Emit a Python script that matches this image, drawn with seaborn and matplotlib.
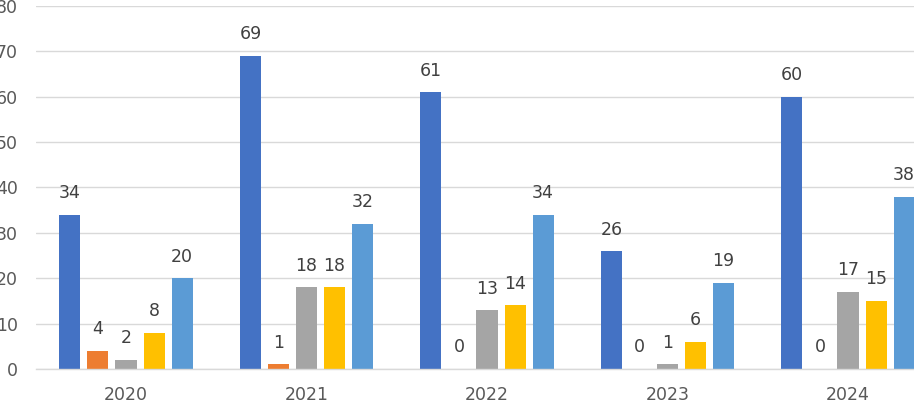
import pandas as pd
import matplotlib
matplotlib.use("Agg")
import matplotlib.pyplot as plt
import seaborn as sns

years = ["2020", "2021", "2022", "2023", "2024"]
series = ["S1", "S2", "S3", "S4", "S5"]
s1 = [34, 69, 61, 26, 60]
s2 = [4, 1, 0, 0, 0]
s3 = [2, 18, 13, 1, 17]
s4 = [8, 18, 14, 6, 15]
s5 = [20, 32, 34, 19, 38]
colors = ["#4472C4", "#ED7D31", "#A5A5A5", "#FFC000", "#5B9BD5"]

rows = []
for name, vals in zip(series, [s1, s2, s3, s4, s5]):
    for y, v in zip(years, vals):
        rows.append({"year": y, "series": name, "value": v})
df = pd.DataFrame(rows)

sns.set_theme(style="white")
plt.rcParams["font.family"] = ["Liberation Sans Narrow", "DejaVu Sans"]

W, H = 914, 400
fig = plt.figure(figsize=(W / 100, H / 100), dpi=100)
left = 35.75 / W
ax = fig.add_axes([left, 31 / H, 1 - left, 363 / H])

sns.barplot(data=df, x="year", y="value", hue="series", palette=colors,
            width=0.776, gap=0.25, legend=False, ax=ax, saturation=1,
            linewidth=0, edgecolor="none")

ax.set_ylim(0, 80)
ax.set_xlim(-0.5, -0.5 + (W - 35.75) / 180.5)
ax.set_yticks(range(0, 81, 10))
ax.yaxis.grid(True, color="#D9D9D9", linewidth=1)
ax.set_axisbelow(True)
for side in ["top", "right", "left"]:
    ax.spines[side].set_visible(False)
ax.spines["bottom"].set_color("#D9D9D9")
ax.spines["bottom"].set_linewidth(1)
ax.tick_params(axis="both", length=0, labelsize=12.5, colors="#595959")
ax.tick_params(axis="y", pad=13)
ax.tick_params(axis="x", pad=12)
ax.set_xlabel("")
ax.set_ylabel("")

for cont in ax.containers:
    ax.bar_label(cont, fmt="%d", padding=9, fontsize=12.5, color="#404040")

fig.savefig("out.png", dpi=100)
